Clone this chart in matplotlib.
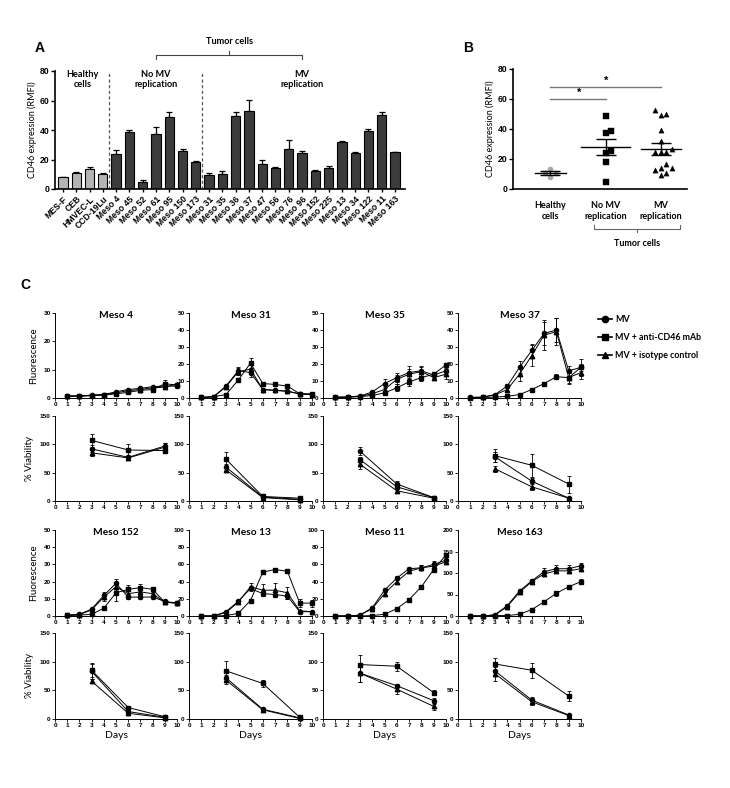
import numpy as np
import matplotlib
matplotlib.use("Agg")
import matplotlib.pyplot as plt
from matplotlib.lines import Line2D

plt.rcParams["font.family"] = ["Liberation Sans", "DejaVu Sans"]
plt.rcParams["font.weight"] = "bold"
TITLE_FONT = ["Lato", "DejaVu Sans"]

# ---------------- panel A / B data ----------------
cell_lines = ["MES-F", "CEB", "HMVEC-L", "CCD-19Lu",
              "Meso 4", "Meso 45", "Meso 52", "Meso 61", "Meso 95", "Meso 150", "Meso 173",
              "Meso 31", "Meso 35", "Meso 36", "Meso 37", "Meso 47", "Meso 56", "Meso 76",
              "Meso 96", "Meso 152", "Meso 225", "Meso 13", "Meso 34", "Meso 122", "Meso 11",
              "Meso 163"]
cd46_rmfi = [8, 11, 13.5, 10.5,
             24, 38.5, 5, 37.5, 48.5, 25.5, 18,
             9.5, 10.5, 49.5, 53, 17, 14, 27, 24.5, 12.5, 14, 32, 24.5, 39.5, 50, 25]
cd46_sem = [0.4, 0.6, 1.6, 0.5,
            2.5, 1.5, 0.8, 4.5, 3.5, 1.5, 1.2,
            1.3, 1.6, 2.5, 7.5, 2.5, 0.8, 6, 1, 0.3, 1.8, 0.8, 0.7, 1.5, 2.5, 0.4]
group_sizes = [4, 7, 15]   # healthy, no MV replication, MV replication
group_labels = ["Healthy\ncells", "No MV\nreplication", "MV\nreplication"]

# ---------------- panel C data ----------------
days = list(range(1, 11))
via_days = [3, 6, 9]
series_names = ["MV", "MV + anti-CD46 mAb", "MV + isotype control"]
panel_titles = ["Meso 4", "Meso 31", "Meso 35", "Meso 37",
                "Meso 152", "Meso 13", "Meso 11", "Meso 163"]
fluo_ymax = [30, 50, 50, 50, 50, 100, 100, 200]
fluo_ystep = [10, 10, 10, 10, 10, 20, 20, 50]

# each: [MV, MV + anti-CD46, MV + isotype]
meso4_fluo = [[0.7, 0.7, 1.0, 1.2, 2.2, 3.0, 3.4, 4.0, 4.2, 4.2],
              [0.6, 0.6, 0.8, 1.0, 1.5, 2.0, 2.7, 3.0, 5.0, 4.6],
              [0.8, 0.7, 1.0, 1.2, 1.8, 2.6, 3.0, 3.6, 3.8, 4.9]]
meso4_fluo_err = [[0.2, 0.2, 0.2, 0.2, 0.3, 0.3, 0.3, 0.4, 0.8, 0.5],
                  [0.2, 0.2, 0.2, 0.2, 0.3, 0.3, 0.3, 0.4, 1.4, 0.6],
                  [0.2, 0.2, 0.2, 0.2, 0.3, 0.3, 0.3, 0.4, 0.6, 0.5]]
meso31_fluo = [[0.3, 0.8, 7, 16, 15, 5, 4.5, 4, 2.5, 2],
               [0.3, 0.8, 2, 10.5, 20.5, 8.5, 8, 7, 2.5, 2.5],
               [0.3, 0.7, 6.5, 15.5, 17, 5, 4.5, 4, 2.3, 2]]
meso31_fluo_err = [[0.2, 0.2, 0.5, 2.5, 2.5, 0.5, 0.5, 0.4, 0.4, 0.3],
                   [0.2, 0.2, 0.3, 1, 3, 0.8, 1, 0.5, 0.4, 0.4],
                   [0.2, 0.2, 0.5, 2, 2.5, 0.5, 0.5, 0.4, 0.4, 0.3]]
meso35_fluo = [[0.5, 0.6, 1.2, 3.5, 8.5, 12, 15, 16, 13.5, 16],
               [0.3, 0.5, 0.8, 1.5, 3, 6, 9.5, 12, 14, 19.5],
               [0.4, 0.6, 1, 2.5, 5, 11, 14, 15.5, 12, 14]]
meso35_fluo_err = [[0.2, 0.2, 0.3, 0.5, 2.5, 2.5, 4, 3, 1.5, 1.5],
                   [0.2, 0.2, 0.2, 0.3, 0.8, 2, 2.5, 2, 1, 0.5],
                   [0.2, 0.2, 0.3, 0.5, 1.5, 2.5, 3, 3, 1.5, 3]]
meso37_fluo = [[0.3, 0.5, 2, 7, 18, 28, 38, 40, 16, 18],
               [0.2, 0.3, 0.5, 1, 2, 5, 8.5, 12.5, 12, 18],
               [0.3, 0.5, 1.8, 5, 14, 25, 37, 39, 12, 15]]
meso37_fluo_err = [[0.2, 0.2, 0.4, 1, 3.5, 4, 7, 7, 3, 5],
                   [0.1, 0.1, 0.2, 0.3, 0.4, 0.8, 0.8, 1.5, 3, 2],
                   [0.2, 0.2, 0.4, 1, 4, 6, 9, 8, 4, 4]]
meso152_fluo = [[0.5, 1, 4, 12, 19, 11, 11, 11, 8.5, 7.5],
                [0.3, 0.5, 1, 4.5, 13.5, 15.5, 16.5, 15.5, 8, 7.5],
                [0.5, 0.8, 3.5, 11, 17, 13, 14, 13, 8, 7.5]]
meso152_fluo_err = [[0.2, 0.3, 0.5, 2, 2.5, 1, 1, 1, 0.8, 0.8],
                    [0.2, 0.2, 0.3, 0.8, 4.5, 2.5, 2, 1.5, 0.8, 0.8],
                    [0.2, 0.2, 0.5, 2, 2.5, 1.5, 1.5, 1.5, 0.8, 0.8]]
meso13_fluo = [[0, 0, 5, 17, 32, 26, 25, 23, 5, 5],
               [0, 0, 0.5, 3, 18, 51, 54, 52, 15, 15],
               [0, 0, 4, 16, 34, 30, 30, 27, 6, 5]]
meso13_fluo_err = [[0.3, 0.3, 0.8, 1, 3, 3, 3, 3, 1, 0.8],
                   [0.3, 0.3, 0.3, 0.5, 1, 1, 2, 2, 5, 4],
                   [0.3, 0.3, 0.8, 1, 4, 7, 8, 7, 1, 0.8]]
meso11_fluo = [[0, 0, 1, 9.5, 30, 44, 55, 56, 60, 65],
               [0, 0, 0, 0.5, 2, 8.5, 19, 34, 54, 71],
               [0, 0, 1, 8.5, 26, 40, 52, 56, 58, 63]]
meso11_fluo_err = [[0.2, 0.2, 0.5, 1, 2, 2, 1.5, 3, 4, 4],
                   [0.2, 0.2, 0.2, 0.3, 0.5, 0.8, 1, 2, 2, 1.5],
                   [0.2, 0.2, 0.5, 1, 2, 3, 2, 3, 3, 3]]
meso163_fluo = [[0, 0, 3, 24, 58, 82, 103, 110, 110, 117],
                [0, 0, 1, 1, 4, 15, 33, 53, 68, 80],
                [0, 0, 2, 22, 55, 80, 98, 105, 105, 110]]
meso163_fluo_err = [[0.5, 0.5, 1, 3, 4, 5, 8, 8, 8, 6],
                    [0.5, 0.5, 0.5, 0.5, 1, 2, 5, 6, 5, 5],
                    [0.5, 0.5, 1, 3, 4, 4, 5, 5, 4, 4]]

meso4_via = [[92, 77, 97], [107, 90, 89], [85, 76, 95]]
meso4_via_err = [[6, 5, 5], [12, 10, 4], [6, 4, 7]]
meso31_via = [[60, 7, 3], [74, 8, 5], [55, 6, 2]]
meso31_via_err = [[5, 1, 1], [12, 1, 2], [4, 1, 1]]
meso35_via = [[88, 30, 6], [73, 25, 6], [65, 18, 5]]
meso35_via_err = [[7, 5, 1], [5, 4, 1], [8, 4, 1]]
meso37_via = [[78, 35, 5], [80, 63, 30], [57, 25, 5]]
meso37_via_err = [[9, 5, 1], [12, 20, 15], [5, 6, 1]]
meso152_via = [[83, 13, 3], [85, 20, 4], [66, 10, 2]]
meso152_via_err = [[13, 3, 1], [12, 3, 1], [4, 2, 1]]
meso13_via = [[72, 17, 2], [84, 62, 3], [68, 16, 1]]
meso13_via_err = [[5, 3, 1], [18, 6, 1], [7, 2, 1]]
meso11_via = [[80, 58, 32], [95, 92, 46], [80, 52, 22]]
meso11_via_err = [[16, 3, 5], [17, 8, 5], [15, 8, 6]]
meso163_via = [[84, 33, 7], [96, 85, 40], [79, 30, 6]]
meso163_via_err = [[8, 5, 1], [11, 13, 8], [12, 6, 1]]

fluo_data = [meso4_fluo, meso31_fluo, meso35_fluo, meso37_fluo,
             meso152_fluo, meso13_fluo, meso11_fluo, meso163_fluo]
fluo_errs = [meso4_fluo_err, meso31_fluo_err, meso35_fluo_err, meso37_fluo_err,
             meso152_fluo_err, meso13_fluo_err, meso11_fluo_err, meso163_fluo_err]
via_data = [meso4_via, meso31_via, meso35_via, meso37_via,
            meso152_via, meso13_via, meso11_via, meso163_via]
via_errs = [meso4_via_err, meso31_via_err, meso35_via_err, meso37_via_err,
            meso152_via_err, meso13_via_err, meso11_via_err, meso163_via_err]

W, H = 730, 788
fig = plt.figure(figsize=(W / 100, H / 100), dpi=100)


def px_axes(left, top, right, bottom):
    return fig.add_axes([left / W, 1 - bottom / H, (right - left) / W, (bottom - top) / H])


def style_axes(ax, lw=1.0):
    for s in ["top", "right"]:
        ax.spines[s].set_visible(False)
    for s in ["left", "bottom"]:
        ax.spines[s].set_linewidth(lw)


def swarm(values, step, tol):
    # simple beeswarm: spread points with similar values sideways
    order = np.argsort(values)
    offs = np.zeros(len(values))
    placed = []
    for i in order:
        v = values[i]
        k = 0
        while True:
            cands = [0.0] if k == 0 else [k * step, -k * step]
            ok = None
            for c in cands:
                if all(abs(v - pv) >= tol or abs(c - po) >= step * 0.99 for pv, po in placed):
                    ok = c
                    break
            if ok is not None:
                break
            k += 1
        offs[i] = ok
        placed.append((v, ok))
    return offs


# ================= Panel A =================
axA = px_axes(55, 71, 405, 189)
style_axes(axA, 1.2)
x = np.arange(len(cell_lines))
n_h = group_sizes[0]
colors = ["#b4b4b4"] * n_h + ["#3c3c3c"] * (len(cell_lines) - n_h)
axA.bar(x, cd46_rmfi, width=0.7, color=colors, edgecolor="black", linewidth=0.8, zorder=2)
axA.errorbar(x, cd46_rmfi, yerr=[np.zeros(len(x)), cd46_sem], fmt="none",
             ecolor="black", elinewidth=0.9, capsize=2.2, capthick=0.9, zorder=1)
axA.set_xlim(-0.6, len(cell_lines) - 0.25)
axA.set_ylim(0, 80)
axA.set_yticks([0, 20, 40, 60, 80])
axA.set_xticks(x)
axA.set_xticklabels(cell_lines, rotation=45, ha="right", rotation_mode="anchor", fontsize=6.2)
axA.tick_params(axis="y", labelsize=6.2, length=3, width=1.0, pad=1)
axA.tick_params(axis="x", length=2.5, width=1.0, pad=1.5)
axA.set_ylabel("CD46 expression (RMFI)", fontsize=6.5, family=TITLE_FONT, labelpad=2)

bounds = np.cumsum(group_sizes)
for b in bounds[:-1]:
    axA.axvline(b - 0.5, color="#555555", linestyle=(0, (2.5, 2)), linewidth=0.9, zorder=0)
starts = np.concatenate([[0], bounds[:-1]])
centers = [(s + e - 1) / 2 for s, e in zip(starts, bounds)]
for c, lab in zip(centers, group_labels):
    axA.text(c, 0.93, lab, transform=axA.get_xaxis_transform(), ha="center", va="center",
             fontsize=6.6, family=TITLE_FONT, linespacing=1.15)
# tumor cells bracket
trA = axA.get_xaxis_transform()
bx0, bx1 = centers[1], centers[2]
axA.plot([bx0, bx0, bx1, bx1], [1.10, 1.136, 1.136, 1.10], color="#444444", lw=0.8,
         transform=trA, clip_on=False)
mid = (bx0 + bx1) / 2
axA.plot([mid, mid], [1.136, 1.17], color="#444444", lw=0.8, transform=trA, clip_on=False)
axA.text(mid, 1.25, "Tumor cells", transform=trA, ha="center", va="center",
         fontsize=6.6, family=TITLE_FONT)
fig.text(40 / W, 1 - 48 / H, "A", fontsize=10, fontweight="bold", ha="center", va="center")

# ================= Panel B =================
axB = px_axes(513, 69, 687, 189)
style_axes(axB, 1.2)
vals = np.array(cd46_rmfi)
groups = [vals[s:e] for s, e in zip(starts, bounds)]
markers = ["o", "s", "^"]
mcolors = ["#a6a6a6", "black", "black"]
half_widths = [0.28, 0.45, 0.36]
for gi, g in enumerate(groups):
    offs = swarm(g, 0.1, 3.6)
    axB.scatter(gi + offs, g, marker=markers[gi], s=14, color=mcolors[gi],
                edgecolors=mcolors[gi], linewidths=0.3, zorder=3, clip_on=False)
    m = g.mean()
    sem = g.std(ddof=1) / np.sqrt(len(g))
    axB.plot([gi - half_widths[gi], gi + half_widths[gi]], [m, m], color="black", lw=1.0, zorder=4)
    axB.errorbar([gi], [m], yerr=[sem], fmt="none", ecolor="black", elinewidth=1.0,
                 capsize=7, capthick=1.0, zorder=4)
# significance
for (g0, g1), yv in zip([(0, 1), (0, 2)], [60, 68]):
    axB.plot([g0, g1], [yv, yv], color="#777777", lw=1.0)
    axB.text((g0 + g1) / 2 + 0.02, yv + 0.5, "*", ha="center", va="bottom", fontsize=8)
axB.set_xlim(-0.67, 2.47)
axB.set_ylim(0, 80)
axB.set_yticks([0, 20, 40, 60, 80])
axB.set_xticks([0, 1, 2])
axB.set_xticklabels(group_labels, fontsize=6.5, family=TITLE_FONT, linespacing=1.15)
axB.tick_params(axis="y", labelsize=6.2, length=3, width=1.0, pad=1)
axB.tick_params(axis="x", length=0, pad=9)
axB.set_ylabel("CD46 expression (RMFI)", fontsize=6.5, family=TITLE_FONT, labelpad=2)
trB = axB.get_xaxis_transform()
axB.plot([0.8, 0.8, 2.35, 2.35], [-0.30, -0.333, -0.333, -0.30], color="#666666", lw=0.8,
         transform=trB, clip_on=False)
axB.plot([1.575, 1.575], [-0.333, -0.36], color="#666666", lw=0.8, transform=trB, clip_on=False)
axB.text(1.575, -0.45, "Tumor cells", transform=trB, ha="center", va="center",
         fontsize=6.5, family=TITLE_FONT)
fig.text(468 / W, 1 - 48 / H, "B", fontsize=10, fontweight="bold", ha="center", va="center")

# ================= Panel C =================
fig.text(25 / W, 1 - 285 / H, "C", fontsize=10, fontweight="bold", ha="center", va="center")
col_left = [55, 189, 323, 458]
col_right = [177, 312, 446, 581]
row_box = [(313, 398), (416, 501), (530, 616), (633, 719)]
mk_size = [3.0, 3.0, 3.2]

for p in range(8):
    c = p % 4
    r0 = 2 * (p // 4)
    # fluorescence
    ax = px_axes(col_left[c], row_box[r0][0], col_right[c], row_box[r0][1])
    style_axes(ax, 0.7)
    for si in range(3):
        ax.errorbar(days, fluo_data[p][si], yerr=fluo_errs[p][si], color="black",
                    marker=markers[si], markersize=mk_size[si], lw=0.7, elinewidth=0.6,
                    capsize=1.6, capthick=0.6, clip_on=False)
    ax.set_xlim(0, 10)
    ax.set_ylim(0, fluo_ymax[p])
    ax.set_yticks(np.arange(0, fluo_ymax[p] + 1, fluo_ystep[p]))
    ax.set_xticks(range(11))
    ax.tick_params(labelsize=4.6, length=2, width=0.6, pad=1.2)
    ax.text(0.5, 0.97, panel_titles[p], transform=ax.transAxes, ha="center", va="center",
            fontsize=7.3, family=TITLE_FONT)
    if c == 0:
        ax.set_ylabel("Fluorescence", fontsize=7, family=TITLE_FONT, labelpad=4)
    # viability
    ax = px_axes(col_left[c], row_box[r0 + 1][0], col_right[c], row_box[r0 + 1][1])
    style_axes(ax, 0.7)
    for si in range(3):
        ax.errorbar(via_days, via_data[p][si], yerr=via_errs[p][si], color="black",
                    marker=markers[si], markersize=mk_size[si], lw=0.7, elinewidth=0.6,
                    capsize=1.6, capthick=0.6, clip_on=False)
    ax.set_xlim(0, 10)
    ax.set_ylim(0, 150)
    ax.set_yticks([0, 50, 100, 150])
    ax.set_xticks(range(11))
    ax.tick_params(labelsize=4.6, length=2, width=0.6, pad=1.2)
    if c == 0:
        ax.set_ylabel("% Viability", fontsize=7, family=TITLE_FONT, labelpad=4)
    if r0 == 2:
        ax.set_xlabel("Days", fontsize=7.5, family=TITLE_FONT, labelpad=2)

handles = [Line2D([], [], color="black", marker=m, markersize=4.5, lw=1.2) for m in markers]
fig.legend(handles, series_names, loc="upper left", bbox_to_anchor=(590 / W, 1 - 307 / H),
           frameon=False, handlelength=1.6, handletextpad=0.3, labelspacing=1.0,
           prop={"family": TITLE_FONT, "weight": "bold", "size": 6.4})

fig.savefig("out.png", dpi=100)
